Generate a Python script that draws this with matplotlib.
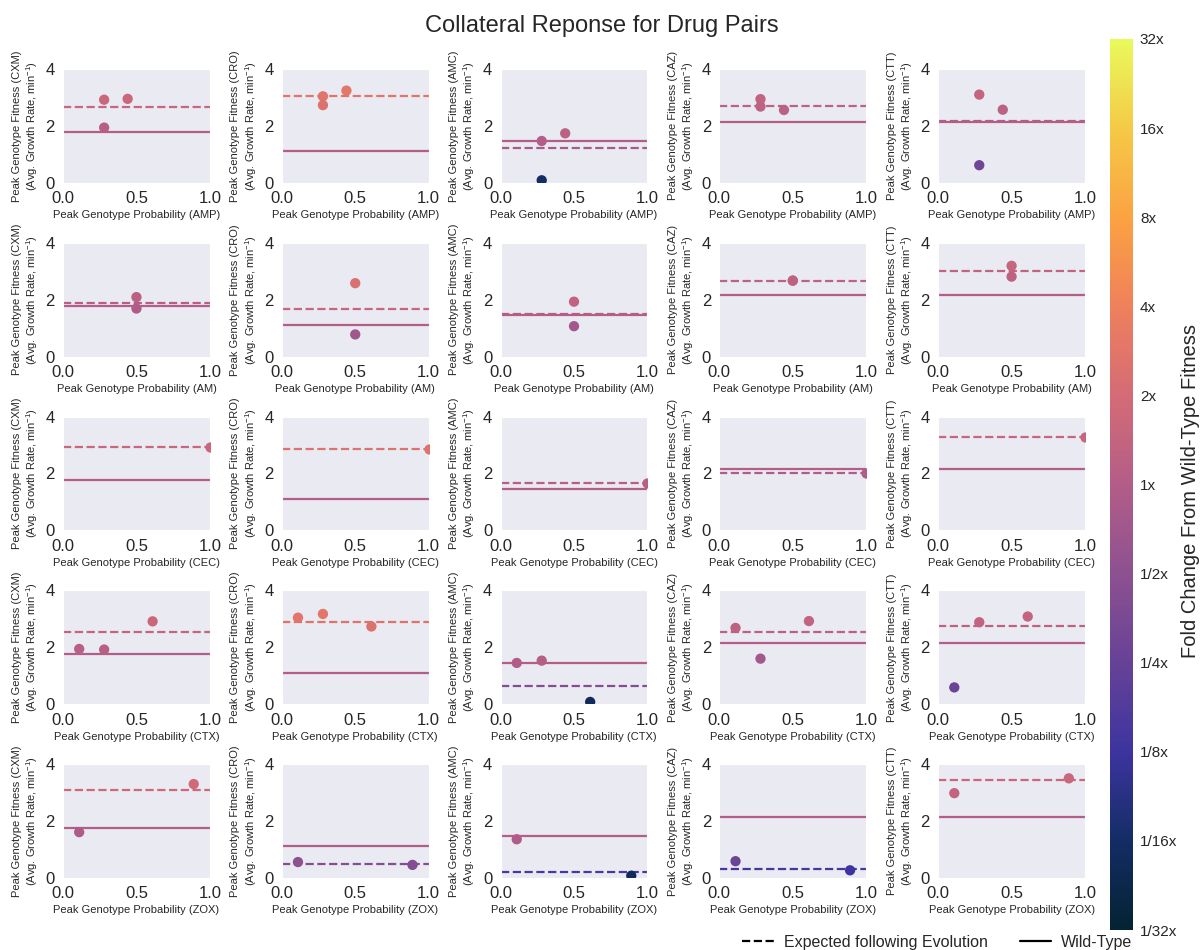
import numpy as np
import matplotlib
matplotlib.use('Agg')
import matplotlib.pyplot as plt
import seaborn as sns
from matplotlib.colors import LinearSegmentedColormap, Normalize
from matplotlib.cm import ScalarMappable
from matplotlib.lines import Line2D

sns.set_style('dark')
plt.rcParams['font.family'] = ['Liberation Sans', 'DejaVu Sans']
plt.rcParams['mathtext.default'] = 'regular'

# ---- data ----
row_drugs = ['AMP', 'AM', 'CEC', 'CTX', 'ZOX']          # x-axis drug (evolved in)
col_drugs = ['CXM', 'CRO', 'AMC', 'CAZ', 'CTT']         # y-axis drug (tested in)
wild_type = [1.77, 1.11, 1.46, 2.15, 2.15]              # per column

# peak genotype probabilities per row
probs_AMP = [0.28, 0.28, 0.44]
probs_AM = [0.5, 0.5]
probs_CEC = [1.0]
probs_CTX = [0.11, 0.28, 0.61]
probs_ZOX = [0.11, 0.89]

# genotype fitness per row, one list per column drug (CXM, CRO, AMC, CAZ, CTT)
fit_AMP = [[2.92, 1.94, 2.95], [3.04, 2.73, 3.24], [1.47, 0.09, 1.74],
           [2.94, 2.68, 2.56], [3.10, 0.62, 2.57]]
fit_AM = [[2.09, 1.69], [2.58, 0.78], [1.93, 1.07], [2.67, 2.67], [3.19, 2.81]]
fit_CEC = [[2.92], [2.86], [1.67], [2.03], [3.27]]
fit_CTX = [[1.94, 1.92, 2.91], [3.04, 3.17, 2.73], [1.45, 1.53, 0.08],
           [2.68, 1.60, 2.92], [0.59, 2.88, 3.08]]
fit_ZOX = [[1.61, 3.30], [0.56, 0.46], [1.36, 0.08], [0.59, 0.27], [2.98, 3.50]]

# expected fitness following evolution (dashed lines)
exp_AMP = [2.66, 3.04, 1.21, 2.70, 2.17]
exp_AM = [1.89, 1.68, 1.49, 2.67, 3.01]
exp_CEC = [2.92, 2.86, 1.67, 2.03, 3.27]
exp_CTX = [2.53, 2.88, 0.63, 2.53, 2.75]
exp_ZOX = [3.10, 0.48, 0.22, 0.31, 3.43]

probs = [probs_AMP, probs_AM, probs_CEC, probs_CTX, probs_ZOX]
fits = [fit_AMP, fit_AM, fit_CEC, fit_CTX, fit_ZOX]
expected = [exp_AMP, exp_AM, exp_CEC, exp_CTX, exp_ZOX]

cbar_ticks = [-5, -4, -3, -2, -1, 0, 1, 2, 3, 4, 5]
cbar_labels = ['1/32x', '1/16x', '1/8x', '1/4x', '1/2x', '1x', '2x', '4x', '8x', '16x', '32x']

# thermal-like colormap
cmap = LinearSegmentedColormap.from_list('thermal_like', [
    (0.00, '#042333'), (0.10, '#132d66'), (0.20, '#3d34a0'), (0.30, '#674297'),
    (0.40, '#8d5190'), (0.50, '#b35d88'), (0.60, '#d46b76'), (0.70, '#ef805c'),
    (0.80, '#fba242'), (0.90, '#f5c946'), (1.00, '#e8fa5b')])
norm = Normalize(vmin=-5, vmax=5)


def fold_color(val, wt):
    return cmap(norm(np.log2(val / wt)))


fig, axes = plt.subplots(5, 5, figsize=(12.03, 9.5), dpi=100)
fig.subplots_adjust(left=0.0524, right=0.9019, top=0.9274, bottom=0.0758,
                    wspace=0.49, hspace=0.526)

for i, rd in enumerate(row_drugs):
    for j, cd in enumerate(col_drugs):
        ax = axes[i, j]
        wt = wild_type[j]
        ex = expected[i][j]
        ax.axhline(wt, color=fold_color(wt, wt), lw=1.6, zorder=2)
        ax.axhline(ex, color=fold_color(ex, wt), lw=1.6, ls='--', zorder=2)
        vals = np.array(fits[i][j])
        ax.scatter(probs[i], vals, c=[fold_color(v, wt) for v in vals],
                   s=55, linewidths=0, zorder=3)
        ax.set_xlim(0, 1)
        ax.set_ylim(0, 4)
        ax.set_xticks([0, 0.5, 1.0])
        ax.set_yticks([0, 2, 4])
        ax.tick_params(labelsize=12, pad=2.5)
        ax.set_xlabel(f'Peak Genotype Probability ({rd})', fontsize=8, labelpad=3)
        ax.set_ylabel(f'Peak Genotype Fitness ({cd})\n(Avg. Growth Rate, min$^{{-1}}$)',
                      fontsize=8, labelpad=4)

fig.suptitle('Collateral Reponse for Drug Pairs', fontsize=17, y=0.984)

cax = fig.add_axes([0.9227, 0.021, 0.0191, 0.938])
sm = ScalarMappable(norm=norm, cmap=cmap)
cbar = fig.colorbar(sm, cax=cax)
cbar.outline.set_visible(False)
cbar.set_ticks(cbar_ticks)
cbar.set_ticklabels(cbar_labels)
cbar.ax.tick_params(labelsize=11, length=0, pad=5)
fig.text(0.9895, 0.483, 'Fold Change From Wild-Type Fitness', rotation=90,
         ha='center', va='center', fontsize=14.5, color='.15')

handles = [Line2D([], [], color='k', ls='--', lw=1.6),
           Line2D([], [], color='k', ls='-', lw=1.6)]
fig.legend(handles, ['Expected following Evolution', 'Wild-Type'], ncol=2,
           loc='center left', bbox_to_anchor=(0.605, 0.008), frameon=False,
           fontsize=11.5, handletextpad=0.6, columnspacing=2.0)

fig.savefig('out.png', dpi=100)
